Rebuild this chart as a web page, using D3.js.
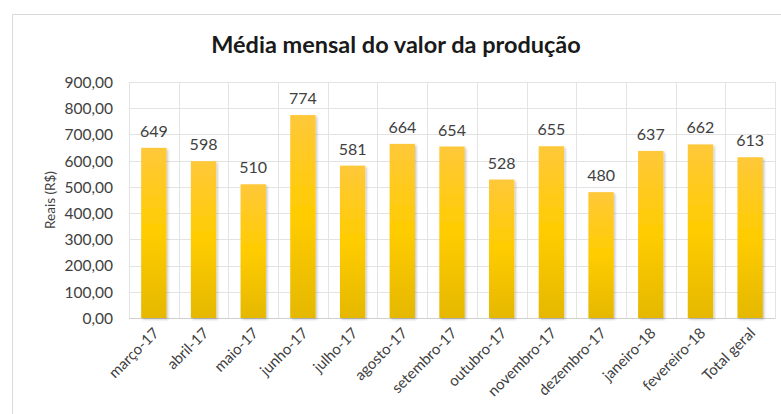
<!DOCTYPE html>
<html>
<head>
<meta charset="utf-8">
<script src="https://cdn.jsdelivr.net/npm/d3@7"></script>
<style>
  html, body { margin: 0; padding: 0; background: #fff; }
  svg { display: block; }
  text { font-family: Lato, "Open Sans", sans-serif; }
</style>
</head>
<body>
<script>
// Monthly average value of production (R$)
const categories = ["março-17", "abril-17", "maio-17", "junho-17", "julho-17", "agosto-17",
  "setembro-17", "outubro-17", "novembro-17", "dezembro-17", "janeiro-18", "fevereiro-18", "Total geral"];
const values = [649, 598, 510, 774, 581, 664, 654, 528, 655, 480, 637, 662, 613];
const yTicks = [0, 100, 200, 300, 400, 500, 600, 700, 800, 900];
const title = "Média mensal do valor da produção";
const yTitle = "Reais (R$)";

const W = 781, H = 414;
const plot = { left: 129, right: 775, top: 82, bottom: 318 };

const svg = d3.select("body").append("svg").attr("width", W).attr("height", H);

const defs = svg.append("defs");
const grad = defs.append("linearGradient").attr("id", "barFill")
  .attr("x1", 0).attr("y1", 0).attr("x2", 0).attr("y2", 1);
grad.append("stop").attr("offset", "0%").attr("stop-color", "#FFC83A");
grad.append("stop").attr("offset", "50%").attr("stop-color", "#FFCC00");
grad.append("stop").attr("offset", "100%").attr("stop-color", "#E5B800");

const shadow = defs.append("filter").attr("id", "barShadow")
  .attr("x", "-20%").attr("y", "-5%").attr("width", "150%").attr("height", "115%");
shadow.append("feDropShadow").attr("dx", 1.5).attr("dy", 1.5).attr("stdDeviation", 1.2)
  .attr("flood-color", "#000").attr("flood-opacity", 0.22);

// chart frame
svg.append("path")
  .attr("d", `M12.5,${H} V14.5 H${W}`)
  .attr("fill", "none").attr("stroke", "#d9d9d9").attr("stroke-width", 1);

const x = d3.scaleBand().domain(categories).range([plot.left, plot.right]).paddingInner(0.49).paddingOuter(0.245);
const xCell = d3.scaleBand().domain(categories).range([plot.left, plot.right]);
const y = d3.scaleLinear().domain([0, 900]).range([plot.bottom, plot.top]);

// gridlines
const grid = svg.append("g").attr("stroke", "#e3e3e3").attr("stroke-width", 1);
grid.selectAll("line.h").data(yTicks).join("line")
  .attr("x1", plot.left).attr("x2", plot.right)
  .attr("y1", d => Math.round(y(d)) + 0.5).attr("y2", d => Math.round(y(d)) + 0.5);
const vBounds = categories.map(c => xCell(c)).concat([plot.right]);
grid.selectAll("line.v").data(vBounds).join("line")
  .attr("y1", plot.top).attr("y2", plot.bottom)
  .attr("x1", d => Math.round(d) + 0.5).attr("x2", d => Math.round(d) + 0.5);

// y axis tick labels
const yAxis = svg.append("g").attr("transform", `translate(${plot.left - 16},0)`)
  .call(d3.axisLeft(y).tickValues(yTicks).tickSize(0).tickPadding(0)
    .tickFormat(d => d3.format(".2f")(d).replace(".", ",")));
yAxis.select(".domain").remove();
yAxis.selectAll("text").attr("font-size", "15.5px").attr("fill", "#404040")
  .attr("font-family", "Lato, sans-serif").attr("dy", "0.35em");

// y axis title
svg.append("text")
  .attr("transform", `translate(55,${(plot.top + plot.bottom) / 2}) rotate(-90)`)
  .attr("text-anchor", "middle")
  .attr("font-size", "13.5px").attr("fill", "#404040")
  .text(yTitle);

// x axis
const xAxis = svg.append("g").attr("transform", `translate(0,${plot.bottom})`)
  .call(d3.axisBottom(xCell).tickSize(0).tickPadding(0));
xAxis.select(".domain").attr("stroke", "#d0d0d0");
xAxis.selectAll("text")
  .attr("font-size", "15px").attr("fill", "#404040")
  .attr("font-family", "Lato, sans-serif")
  .attr("text-anchor", "end")
  .attr("dy", null).attr("y", 0)
  .attr("transform", "translate(6,16) rotate(-45)");

// bars
svg.append("g").selectAll("rect").data(values).join("rect")
  .attr("x", (d, i) => x(categories[i]))
  .attr("width", x.bandwidth())
  .attr("y", d => y(d))
  .attr("height", d => y(0) - y(d))
  .attr("fill", "url(#barFill)")
  .attr("filter", "url(#barShadow)");

// value labels
svg.append("g").selectAll("text").data(values).join("text")
  .attr("x", (d, i) => x(categories[i]) + x.bandwidth() / 2)
  .attr("y", d => y(d) - 11)
  .attr("text-anchor", "middle")
  .attr("font-size", "16px").attr("fill", "#404040")
  .text(d => d);

// title
svg.append("text")
  .attr("x", 396).attr("y", 53)
  .attr("text-anchor", "middle")
  .attr("font-size", "23.5px").attr("font-weight", "bold").attr("fill", "#1a1a1a")
  .text(title);
</script>
</body>
</html>
